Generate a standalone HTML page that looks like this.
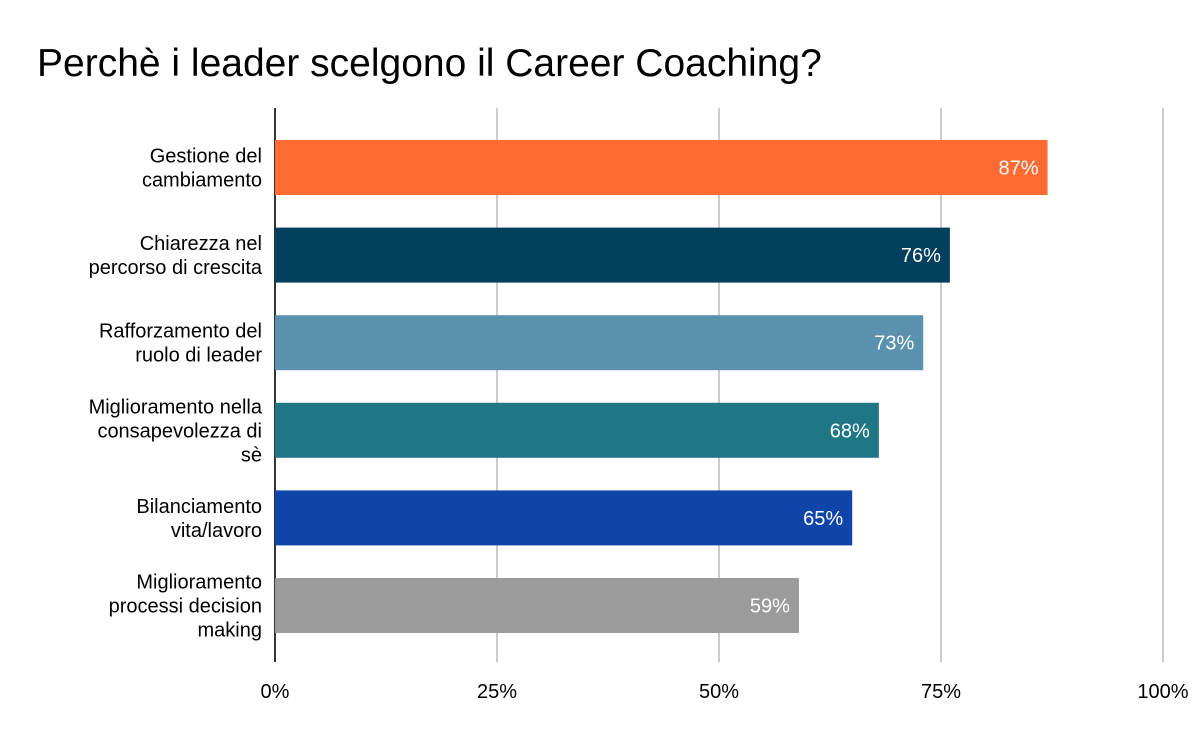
<!DOCTYPE html>
<html><head><meta charset="utf-8"><style>
body{margin:0;background:#fff;font-family:"Liberation Sans",Arial,sans-serif;}
svg{display:block}
</style></head><body>
<svg id="chart" width="1200" height="742">
<text x="37" y="76" font-size="39" fill="#000">Perchè i leader scelgono il Career Coaching?</text>
<g id="grid"></g><g id="bars"></g><g id="labels"></g>
</svg>
<script>
const categories=[["Gestione del","cambiamento"],["Chiarezza nel","percorso di crescita"],["Rafforzamento del","ruolo di leader"],["Miglioramento nella","consapevolezza di","sè"],["Bilanciamento","vita/lavoro"],["Miglioramento","processi decision","making"]];
const values=[87,76,73,68,65,59];
const colors=["#FF6B33","#02405E","#5A91AF","#1F7785","#0F44A9","#9B9B9B"];
const ticks=[0,25,50,75,100];
const tickLabels=["0%","25%","50%","75%","100%"];
const NS="http://www.w3.org/2000/svg";
const x0=275,x1=1163,plotTop=108,plotBottom=662,bandStart=123.7,band=87.6,barH=55;
const xs=v=>x0+(x1-x0)*v/100;
const yc=i=>bandStart+band*(i+0.5);
function mk(t,a,p){const e=document.createElementNS(NS,t);for(const k in a)e.setAttribute(k,a[k]);p.appendChild(e);return e;}
const grid=document.getElementById('grid'),bars=document.getElementById('bars'),labels=document.getElementById('labels');
ticks.forEach((t,i)=>{
 if(t>0){const l=mk('line',{x1:xs(t),x2:xs(t),y1:plotTop,y2:plotBottom,stroke:'#cccccc','stroke-width':2},grid);
 
 }
 const tx=mk('text',{x:xs(t),y:698,'font-size':20,'text-anchor':'middle',fill:'#000'},labels);
 tx.textContent=tickLabels[i];
 
 
});
values.forEach((v,i)=>{
 const r=mk('rect',{x:x0,y:yc(i)-barH/2,width:xs(v)-x0,height:barH,fill:colors[i]},bars);
 
 
 const t=mk('text',{x:xs(v)-9,y:yc(i)+7,'font-size':20,'text-anchor':'end',fill:'#fff'},labels);
 t.textContent=v+'%';
 
 
 const lines=categories[i],lh=24,start=yc(i)+7-(lines.length-1)*lh/2;
 const c=mk('text',{x:262,'font-size':20,'text-anchor':'end',fill:'#000'},labels);
 
 
 lines.forEach((s,j)=>{const ts=mk('tspan',{x:262,y:start+j*lh},c);ts.textContent=s;});
});
const ax=mk('line',{x1:x0,x2:x0,y1:plotTop,y2:plotBottom,stroke:'#333','stroke-width':2},grid);


</script>
</body></html>
